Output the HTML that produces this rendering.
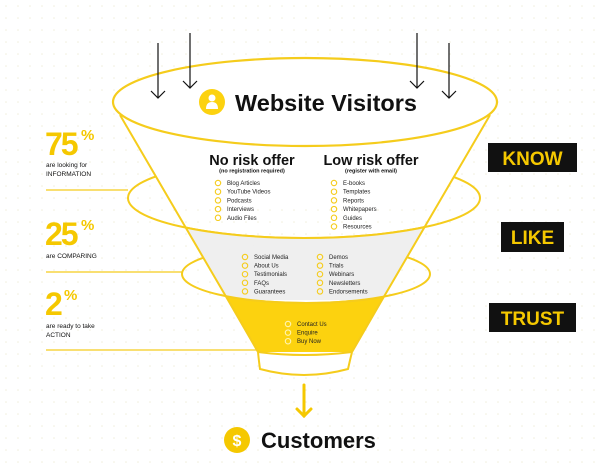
<!DOCTYPE html>
<html><head><meta charset="utf-8"><style>
body{margin:0;width:600px;height:473px;background:#fff;overflow:hidden;font-family:"Liberation Sans",sans-serif}
svg{position:absolute;left:0;top:0}
</style></head><body>
<svg width="600" height="473" viewBox="0 0 600 473" xmlns="http://www.w3.org/2000/svg" font-family="Liberation Sans, sans-serif">
<defs>
<pattern id="dots" width="12" height="12" patternUnits="userSpaceOnUse"><circle cx="6" cy="6" r="0.8" fill="#f1eedd"/></pattern>
<clipPath id="funnel"><polygon points="120,115 490,115 382,300 352,352 258,352 228,300"/></clipPath>
</defs>
<rect width="600" height="473" fill="url(#dots)"/>
<ellipse cx="304" cy="198" rx="176" ry="40" fill="none" stroke="#f5cc1c" stroke-width="2"/>
<ellipse cx="306" cy="274" rx="124" ry="29" fill="none" stroke="#f5cc1c" stroke-width="2"/>
<g clip-path="url(#funnel)">
<rect x="0" y="100" width="600" height="100" fill="#fff"/>
<path d="M128,198 A176,40 0 0 0 480,198 L480,300 L128,300 Z" fill="#efefef"/>
<path d="M182,274 A124,29 0 0 0 430,274 L430,360 L182,360 Z" fill="#fcd20f"/>
<path d="M128,198 A176,40 0 0 1 480,198 Z" fill="#fff" stroke="#fff" stroke-width="4"/>
<path d="M182,274 A124,29 0 0 1 430,274 Z" fill="#efefef" stroke="#efefef" stroke-width="4"/>
<path d="M128,198 A176,40 0 0 0 480,198" fill="none" stroke="#f5cc1c" stroke-width="2"/>
<path d="M182,274 A124,29 0 0 0 430,274" fill="none" stroke="#f5cc1c" stroke-width="2"/>
</g>
<polyline points="120,115 228,300 258,352" fill="none" stroke="#f5cc1c" stroke-width="2"/>
<polyline points="490,115 382,300 352,352" fill="none" stroke="#f5cc1c" stroke-width="2"/>
<path d="M258,352 Q259,362 260,369 Q304,381 348,369 Q350,360 352,352" fill="#fff" stroke="#f5cc1c" stroke-width="2"/>
<path d="M258,352 Q304,358 352,352" fill="none" stroke="#f5cc1c" stroke-width="2"/>
<ellipse cx="305" cy="102" rx="192" ry="44" fill="#fff" stroke="#f5cc1c" stroke-width="2.2"/>
<g stroke="#111" stroke-width="1.2" fill="none">
<line x1="158" y1="43" x2="158" y2="98"/><polyline points="151,91 158,98 165,91"/>
<line x1="190" y1="33" x2="190" y2="88"/><polyline points="183,81 190,88 197,81"/>
<line x1="417" y1="33" x2="417" y2="88"/><polyline points="410,81 417,88 424,81"/>
<line x1="449" y1="43" x2="449" y2="98"/><polyline points="442,91 449,98 456,91"/>
</g>
<circle cx="212" cy="102" r="13" fill="#fcd20f"/>
<circle cx="212" cy="98" r="3.5" fill="#fff"/>
<path d="M206,109 Q206,102 212,102 Q218,102 218,109 Z" fill="#fff"/>
<text x="235" y="111" font-size="23.5" font-weight="bold" fill="#111">Website Visitors</text>
<text x="252" y="165" font-size="14.5" font-weight="bold" text-anchor="middle" fill="#111">No risk offer</text>
<text x="252" y="172.5" font-size="5.5" font-weight="bold" text-anchor="middle" fill="#111">(no registration required)</text>
<text x="371" y="165" font-size="14.5" font-weight="bold" text-anchor="middle" fill="#111">Low risk offer</text>
<text x="371" y="172.5" font-size="5.5" font-weight="bold" text-anchor="middle" fill="#111">(register with email)</text>
<g font-size="6" fill="#222">
<g fill="none" stroke="#f5cc1c" stroke-width="1.1">
<circle cx="218" cy="183" r="2.7"/><circle cx="218" cy="191.7" r="2.7"/><circle cx="218" cy="200.4" r="2.7"/><circle cx="218" cy="209.1" r="2.7"/><circle cx="218" cy="217.8" r="2.7"/>
<circle cx="334" cy="183" r="2.7"/><circle cx="334" cy="191.7" r="2.7"/><circle cx="334" cy="200.4" r="2.7"/><circle cx="334" cy="209.1" r="2.7"/><circle cx="334" cy="217.8" r="2.7"/><circle cx="334" cy="226.5" r="2.7"/>
<circle cx="245" cy="257" r="2.7"/><circle cx="245" cy="265.6" r="2.7"/><circle cx="245" cy="274.2" r="2.7"/><circle cx="245" cy="282.8" r="2.7"/><circle cx="245" cy="291.4" r="2.7"/>
<circle cx="320" cy="257" r="2.7"/><circle cx="320" cy="265.6" r="2.7"/><circle cx="320" cy="274.2" r="2.7"/><circle cx="320" cy="282.8" r="2.7"/><circle cx="320" cy="291.4" r="2.7"/>
</g>
<g fill="none" stroke="#fff4b0" stroke-width="1.1">
<circle cx="288" cy="324" r="2.7"/><circle cx="288" cy="332.6" r="2.7"/><circle cx="288" cy="341.2" r="2.7"/>
</g>
<text x="227" y="185">Blog Articles</text><text x="227" y="193.7">YouTube Videos</text><text x="227" y="202.4">Podcasts</text><text x="227" y="211.1">Interviews</text><text x="227" y="219.8">Audio Files</text>
<text x="343" y="185">E-books</text><text x="343" y="193.7">Templates</text><text x="343" y="202.4">Reports</text><text x="343" y="211.1">Whitepapers</text><text x="343" y="219.8">Guides</text><text x="343" y="228.5">Resources</text>
<text x="254" y="259">Social Media</text><text x="254" y="267.6">About Us</text><text x="254" y="276.2">Testimonials</text><text x="254" y="284.8">FAQs</text><text x="254" y="293.4">Guarantees</text>
<text x="329" y="259">Demos</text><text x="329" y="267.6">Trials</text><text x="329" y="276.2">Webinars</text><text x="329" y="284.8">Newsletters</text><text x="329" y="293.4">Endorsements</text>
<text x="297" y="326">Contact Us</text><text x="297" y="334.6">Enquire</text><text x="297" y="343.2">Buy Now</text>
</g>
<g stroke="#f5cc1c" stroke-width="1.2">
<line x1="46" y1="190" x2="128" y2="190"/>
<line x1="46" y1="272" x2="182" y2="272"/>
<line x1="46" y1="350" x2="257" y2="350"/>
</g>
<g fill="#f5c800" font-weight="bold">
<text x="45" y="155" font-size="32" letter-spacing="-2">75</text><text x="81" y="140" font-size="15">%</text>
<text x="45" y="245" font-size="32" letter-spacing="-2">25</text><text x="81" y="230" font-size="15">%</text>
<text x="45" y="315" font-size="32">2</text><text x="64" y="300" font-size="15">%</text>
</g>
<g font-size="6.5" fill="#111">
<text x="46" y="167">are looking for</text><text x="46" y="176">INFORMATION</text>
<text x="46" y="258">are COMPARING</text>
<text x="46" y="328">are ready to take</text><text x="46" y="337">ACTION</text>
</g>
<rect x="488" y="143" width="89" height="29" fill="#111"/>
<text x="532.5" y="165" font-size="19" font-weight="bold" fill="#f5c800" text-anchor="middle">KNOW</text>
<rect x="501" y="222" width="63" height="30" fill="#111"/>
<text x="532.5" y="244" font-size="19" font-weight="bold" fill="#f5c800" text-anchor="middle">LIKE</text>
<rect x="489" y="303" width="87" height="29" fill="#111"/>
<text x="532.5" y="325" font-size="19" font-weight="bold" fill="#f5c800" text-anchor="middle">TRUST</text>
<g stroke="#f5c800" stroke-width="3" fill="none" stroke-linecap="round">
<line x1="304" y1="385" x2="304" y2="416"/><polyline points="297,409 304,416 311,409"/>
</g>
<circle cx="237" cy="440" r="13" fill="#f5c800"/>
<text x="237" y="446" font-size="16" font-weight="bold" fill="#fff" text-anchor="middle">$</text>
<text x="261" y="448" font-size="22" font-weight="bold" fill="#111">Customers</text>
</svg>
</body></html>
